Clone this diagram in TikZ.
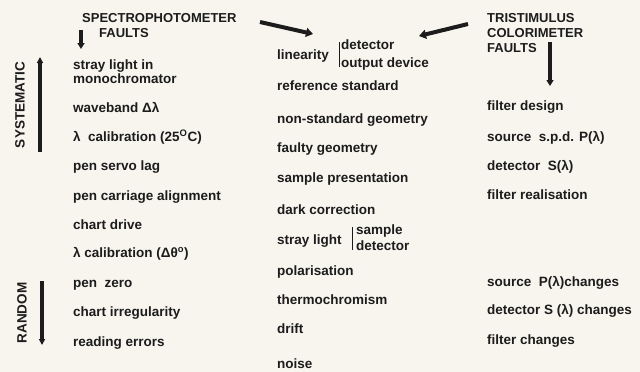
\documentclass[tikz,border=0pt]{standalone}
\usepackage{fontspec}
\setmainfont{Liberation Sans}
\usepackage{xcolor}
\usetikzlibrary{arrows.meta}

\definecolor{paper}{RGB}{247,245,238}
\definecolor{ink}{RGB}{28,28,28}

\begin{document}
\begin{tikzpicture}[x=1pt, y=-1pt]
		\tikzstyle{item} = [anchor=base west, inner sep=0pt, text=ink, align=left, font=\bfseries\fontsize{13.5}{14}\selectfont]
		\tikzstyle{head} = [anchor=base west, inner sep=0pt, text=ink, align=left, font=\bfseries\fontsize{13}{15}\selectfont]
		\tikzstyle{side} = [inner sep=0pt, text=ink, rotate=90, font=\bfseries\fontsize{13.5}{14}\selectfont]
		\tikzstyle{fat} = [draw=ink, line width=4pt, -{Triangle[length=7pt, width=9pt]}]
		\tikzstyle{bar} = [draw=ink, line width=0.6pt]
		
		\path[use as bounding box, fill=paper] (0,0) rectangle (640,372);
		
		% headings (base = last line)
		\node[head] 	at (82, 37.8) 	(spec) 	{SPECTROPHOTOMETER\\\hspace*{17pt}FAULTS};
		\node[head] 	at (487, 52.8) 	(tri) 	{TRISTIMULUS\\COLORIMETER\\FAULTS};
		\node[side] 	at (20, 105) 	(sys) 	{SYSTEMATIC};
		\node[side] 	at (22, 313) 	(rnd) 	{RANDOM};
		
		% spectrophotometer column
		\node[item] 	at (73, 83.5) 	(l1) 	{stray light in\\monochromator};
		\node[item] 	at (73, 112.5) 	(l2) 	{waveband Δλ};
		\node[item] 	at (73, 141.5) 	(l3) 	{λ\ \ calibration (25\textsuperscript{O}C)};
		\node[item] 	at (73, 170.5) 	(l4) 	{pen servo lag};
		\node[item] 	at (73, 200.5) 	(l5) 	{pen carriage alignment};
		\node[item] 	at (73, 229.5) 	(l6) 	{chart drive};
		\node[item] 	at (73, 257.5) 	(l7) 	{λ calibration (Δθ\textsuperscript{o})};
		\node[item] 	at (73, 287.5) 	(l8) 	{pen\ \ zero};
		\node[item] 	at (73, 316.5) 	(l9) 	{chart irregularity};
		\node[item] 	at (73, 346.5) 	(l10) 	{reading errors};
		
		% common column
		\node[item] 	at (277, 59.5) 	(m1) 	{linearity};
		\node[item, font=\bfseries\fontsize{13.5}{18}\selectfont]
						at (341, 67.5) 	(m1b) 	{detector\\output device};
		\node[item] 	at (277, 90.5) 	(m2) 	{reference standard};
		\node[item] 	at (277, 123.5) (m3) 	{non-standard geometry};
		\node[item] 	at (277, 152.5) (m4) 	{faulty geometry};
		\node[item] 	at (277, 182.5) (m5) 	{sample presentation};
		\node[item] 	at (277, 214.5) (m6) 	{dark correction};
		\node[item] 	at (277, 244.5) (m7) 	{stray light};
		\node[item, font=\bfseries\fontsize{13.5}{16}\selectfont]
						at (356, 250.5) (m7b) 	{sample\\detector};
		\node[item] 	at (277, 275.5) (m8) 	{polarisation};
		\node[item] 	at (277, 304.5) (m9) 	{thermochromism};
		\node[item] 	at (277, 333.5) (m10) 	{drift};
		\node[item] 	at (277, 368.5) (m11) 	{noise};
		
		% colorimeter column
		\node[item] 	at (487, 110.5) (r1) 	{filter design};
		\node[item] 	at (487, 141.5) (r2) 	{source\ \ s.p.d. P(λ)};
		\node[item] 	at (487, 170.5) (r3) 	{detector\ \ S(λ)};
		\node[item] 	at (487, 199.5) (r4) 	{filter realisation};
		\node[item] 	at (487, 286.5) (r5) 	{source\ \ P(λ)changes};
		\node[item] 	at (487, 314.5) (r6) 	{detector S (λ) changes};
		\node[item] 	at (487, 344.5) (r7) 	{filter changes};
		
		% arrow ends
		\coordinate (s1) at (260, 22);
		\coordinate (s2) at (313, 34);
		\coordinate (t1) at (468, 24);
		\coordinate (t2) at (419, 36);
		\coordinate (sd1) at (81, 30);
		\coordinate (sd2) at (81, 49);
		\coordinate (td1) at (550, 42);
		\coordinate (td2) at (550, 86);
		\coordinate (up1) at (40, 152);
		\coordinate (up2) at (40, 57);
		\coordinate (dn1) at (42, 281);
		\coordinate (dn2) at (42, 345);
		
		\draw[fat] (s1) -- (s2);
		\draw[fat] (t1) -- (t2);
		\draw[fat, line width=3.5pt, -{Triangle[length=6pt, width=7pt]}] (sd1) -- (sd2);
		\draw[fat, line width=3.5pt, -{Triangle[length=6pt, width=7pt]}] (td1) -- (td2);
		\draw[fat, line width=4pt, -{Triangle[length=6pt, width=6pt]}] (up1) -- (up2);
		\draw[fat, line width=4pt, -{Triangle[length=6pt, width=6pt]}] (dn1) -- (dn2);
		
		% brackets
		\draw[bar] (339, 42) -- (339, 67);
		\draw[bar] (352, 227) -- (352, 250);
	\end{tikzpicture}
\end{document}
